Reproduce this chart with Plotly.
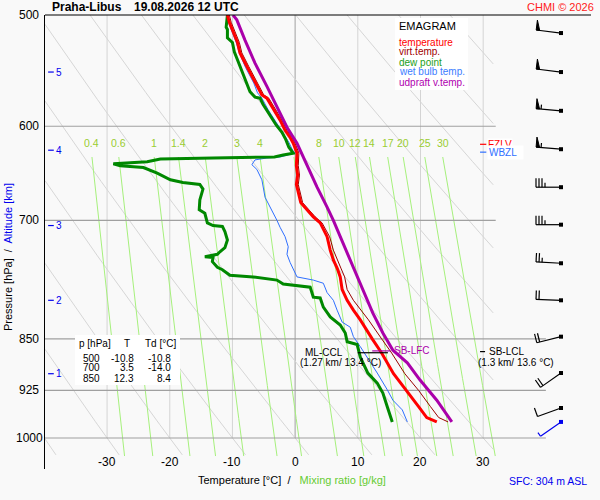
import numpy as np
import plotly.graph_objects as go

# ---- sounding (T in degC, p in hPa) ----
temp_p = [500, 506, 523, 532, 544, 558, 570, 573, 581, 594, 604, 611, 617, 627, 640, 650, 660, 670, 680,
          688, 696, 703, 719, 735, 747, 757, 768, 784, 798, 811, 824, 850, 870, 900, 925, 950, 967, 974]
temp_t = [-10.8, -10.5, -9.2, -8.8, -7.7, -6.4, -5.3, -4.5, -3.7, -2.4, -1.6, -0.8, -0.3, 0.3, 0.2, 0.4, 0.2, 0.5, 0.9,
          1.9, 2.9, 4.0, 5.1, 5.6, 6.1, 6.7, 7.2, 7.5, 8.3, 9.3, 10.4, 12.3, 13.8, 15.7, 17.8, 19.7, 21.0, 22.6]
virt_t = [-10.5, -10.2, -8.9, -8.5, -7.4, -6.1, -5.0, -4.2, -3.4, -2.1, -1.3, -0.5, 0.0, 0.6, 0.5, 0.7, 0.5, 0.8, 1.2,
          2.2, 3.2, 4.3, 5.5, 6.1, 6.7, 7.3, 7.9, 8.3, 9.3, 10.5, 11.7, 13.8, 15.4, 17.5, 19.7, 21.6, 22.9, 24.4]

dew_p = [500, 510, 512, 519, 523, 531, 538, 549, 562, 567, 572, 573, 579, 584, 592, 599, 606, 613, 621, 624,
         627, 629, 631, 632, 633, 636, 637, 638, 640, 642, 648, 655, 658, 660, 665, 677, 688, 692, 703, 706,
         707, 713, 723, 732, 737, 740, 743, 744, 749, 756, 759, 766, 768, 772, 777, 781, 794, 795, 807, 820,
         831, 842, 854, 858, 876, 899, 914, 929, 950, 974]
dew_t = [-10.8, -11.0, -10.8, -10.8, -10.0, -9.7, -9.2, -8.4, -7.6, -7.2, -6.4, -5.6, -5.1, -4.6, -3.8, -3.0, -2.1, -1.5, -1.0, -0.6,
         -0.3, -1.9, -3.3, -13.1, -21.5, -23.6, -27.9, -29.0, -27.9, -24.2, -22.0, -19.9, -17.9, -15.2, -14.7, -15.2, -15.3, -14.4, -14.0, -13.1,
         -11.6, -11.2, -10.8, -11.2, -12.0, -12.4, -14.4, -13.1, -13.2, -12.4, -11.6, -10.4, -6.7, -2.9, -1.9, 2.4, 2.9, 4.0, 4.5, 5.6,
         7.2, 8.0, 8.3, 9.9, 10.4, 11.6, 13.1, 14.0, 14.7, 15.5]

wb_p = [500, 508, 523, 532, 545, 559, 568, 573, 584, 597, 607, 616, 624, 627, 631, 632, 634, 639, 644, 655,
        674, 688, 700, 708, 719, 731, 740, 750, 759, 768, 772, 776, 788, 798, 811, 827, 834, 847, 861, 876,
        899, 924, 940, 955, 974]
wb_t = [-10.8, -10.5, -9.4, -8.9, -7.9, -6.6, -6.0, -5.3, -4.3, -2.9, -1.9, -1.0, -0.4, 0.0, -2.4, -4.5, -6.4, -6.9, -6.1, -5.3,
        -4.8, -3.7, -2.9, -2.4, -1.6, -1.1, -1.3, -0.8, -0.3, 0.3, 2.9, 4.5, 5.1, 6.1, 6.7, 7.5, 8.8, 9.3, 10.4, 11.5,
        13.1, 14.7, 15.6, 17.1, 17.9]

up_p = [500, 504, 521, 541, 562, 581, 601, 617, 631, 648, 663, 685, 700, 719, 747, 776, 798, 815, 842, 866, 884, 909, 940, 974]
up_t = [-9.9, -9.3, -8.0, -6.4, -4.5, -2.9, -1.3, 0.3, 1.3, 2.4, 3.5, 5.1, 6.1, 7.2, 8.8, 10.4, 11.6, 12.4, 14.0, 15.6, 17.9, 19.9, 22.6, 25.0]

# wind barbs
wind_p = [515, 549, 585, 623, 663, 705, 751, 798, 847, 899, 952, 974]
wind_dir = [277, 277, 275, 275, 270, 270, 273, 272, 256, 235, 250, 235]
wind_kt = [50, 50, 55, 55, 35, 35, 25, 20, 20, 20, 10, 3]

# grid / labels
p_ticks = [500, 600, 700, 850, 925, 1000]
t_ticks = [-30, -20, -10, 0, 10, 20, 30]
mix_w = [0.4, 0.6, 1, 1.4, 2, 3, 4, 6, 8, 10, 12, 14, 17, 20, 25, 30]
mix_labels = ["0.4", "0.6", "1", "1.4", "2", "3", "4", "", "8", "10", "12", "14", "17", "20", "25", "30"]
theta_c = list(range(-40, 101, 10))
alt_km = [5, 4, 3, 2, 1]
alt_p = [549, 624, 706, 798, 900]
table_p = [500, 700, 850]
table_t = [-10.8, 3.5, 12.3]
table_td = [-10.8, -14.0, 8.4]
fzlv_p, wbzl_p = 618, 626
ccl_p, lfc_p, lcl_p = 869.6, 867, 868

P_TOP, P_BOT = 500, 1052.1
T_MIN, T_MAX = -39.9, 47.2
FONT = "Liberation Sans, Arial, sans-serif"

fig = go.Figure()


def add_line(x, y, color, width=1.0, xaxis="x", **kw):
    fig.add_trace(go.Scatter(x=list(x), y=list(y), mode="lines", xaxis=xaxis, yaxis="y",
                             line=dict(color=color, width=width), hoverinfo="skip", **kw))


# isotherms
for t in t_ticks:
    add_line([t, t], [500, 1000], "#a0a0a0" if t == 0 else "#d4d4d4")

# dry adiabats
for th in theta_c:
    thk = th + 273.15
    p_lo = max(500, 1000 * ((T_MIN + 273.15) / thk) ** (1 / 0.286))
    p_hi = min(1028, 1000 * ((31.6 + 273.15) / thk) ** (1 / 0.286))
    if p_hi <= p_lo:
        continue
    pp = np.linspace(p_lo, p_hi, 40)
    add_line(thk * (pp / 1000) ** 0.286 - 273.15, pp, "#d6d6d6")

# mixing ratio lines
def mix_t(w, p):
    e = w * p / (622 + w)
    a = np.log(e / 6.112)
    return 243.5 * a / (17.67 - a)

for w in mix_w:
    pp = np.linspace(631, 1030, 40)
    add_line(mix_t(w, pp), pp, "#a6f07c")

# isobars
for p in p_ticks[1:]:
    add_line([T_MIN, 32 if p < 800 else 40], [p, p], "#a0a0a0", 1.2)

# sounding curves
add_line(wb_t, wb_p, "#2f6fff", 1)
add_line(virt_t, temp_p, "#990000", 1)
add_line(dew_t, dew_p, "#008800", 3)
add_line(temp_t, temp_p, "#ff0000", 3)
add_line(up_t, up_p, "#aa00aa", 3)

# level markers
add_line([10.0, 14.8], [ccl_p, ccl_p], "black", 1.2)
add_line([12.3, 15.2], [lfc_p, lfc_p], "#aa00aa", 1.2)
add_line([29.5, 30.3], [lcl_p, lcl_p], "black", 1.2)
add_line([29.5, 30.5], [fzlv_p, fzlv_p], "red", 1.2)
add_line([29.5, 30.5], [wbzl_p, wbzl_p], "#2f6fff", 1.2)
for p in alt_p:
    add_line([-39.4, -38.5], [p, p], "#0000ee", 1.2)

# wind barbs (x2 axis in pixels, y on the pressure axis)
X_STN = 561.0
PXD = 454 / (np.log10(P_BOT) - np.log10(P_TOP))


def to_axes(p, pt):
    return X_STN + pt[0], 10 ** (np.log10(p) + pt[1] / PXD)


for p, wd, kt in zip(wind_p, wind_dir, wind_kt):
    col = "#0000ee" if p == wind_p[-1] else "black"
    d = np.radians(wd)
    u = np.array([np.sin(d), -np.cos(d)])
    perp = np.array([-u[1], u[0]])
    tip = 25 * u
    segs = [[np.zeros(2), tip]]
    polys = []
    rem = 5 * round(kt / 5)
    pos = 0.0
    while rem >= 50:
        b = tip - u * pos
        polys.append([b, b + perp * 10, b - u * 3.5, b])
        pos += 5
        rem -= 50
    while rem >= 10:
        b = tip - u * pos
        segs.append([b, b + perp * 9])
        pos += 3
        rem -= 10
    if rem >= 5:
        b = tip - u * pos
        segs.append([b, b + perp * 4.5])
    xs, ys = [], []
    for s in segs:
        for pt in s:
            x, y = to_axes(p, pt)
            xs.append(x)
            ys.append(y)
        xs.append(None)
        ys.append(None)
    add_line(xs, ys, col, 1.2, xaxis="x2")
    for poly in polys:
        px_, py_ = zip(*[to_axes(p, pt) for pt in poly])
        add_line(px_, py_, col, 1, xaxis="x2", fill="toself", fillcolor=col)
    fig.add_trace(go.Scatter(x=[X_STN], y=[p], mode="markers", xaxis="x2", yaxis="y",
                             marker=dict(symbol="square", size=4, color=col), hoverinfo="skip"))

ann = []


def text(x, y, s, size=11, color="black", xref="paper", yref="paper", xanchor="center", **kw):
    ann.append(dict(x=x, y=y, text=s, xref=xref, yref=yref, showarrow=False, xanchor=xanchor,
                    yanchor="middle", font=dict(family=FONT, size=size, color=color), **kw))


def px_x(px):
    return (px - 45) / 546


def px_y(py):
    return (469 - py) / 454


# title and corners
text(px_x(50), px_y(7), "<b>Praha-Libus</b>", 12, xanchor="left")
text(px_x(132), px_y(7), "<b>19.08.2026 12 UTC</b>", 12, xanchor="left")
text(px_x(596), px_y(7), "CHMI © 2026", 11, "#ff2020", xanchor="right")
text(px_x(589), px_y(481), "SFC: 304 m ASL", 10.5, "#0000ee", xanchor="right")

# axis labels
for p in p_ticks:
    text(px_x(29), np.log10(p), str(p), 12, yref="y")
for t in t_ticks:
    text(t, np.log10(1040), str(t), 12, xref="x", yref="y")
text(px_x(292), px_y(480),
     "Temperature [°C]\u00a0 /\u00a0\u00a0 <span style='color:#66cc33'>Mixing ratio [g/kg]</span>", 11)
text(px_x(8), px_y(257), "Pressure [hPa]\u00a0 /\u00a0 <span style='color:#0000ee'>Altitude [km]</span>",
     11, textangle=-90)
for k, p in zip(alt_km, alt_p):
    text(-37.6, np.log10(p), str(k), 10, "#0000ee", xref="x", yref="y")

# mixing ratio labels
for w, lab in zip(mix_w, mix_labels):
    if lab:
        text(float(mix_t(w, 631)), np.log10(617), lab, 10.5, "#9acd32", xref="x", yref="y")

# legend
text(px_x(397), px_y(26), "EMAGRAM", 11, xanchor="left")
leg = [("temperature", "#ff0000"), ("virt.temp.", "#a00000"), ("dew point", "#22a022"),
       ("wet bulb temp.", "#3b7dff"), ("udpraft v.temp.", "#b000b0")]
for i, (s, c) in enumerate(leg):
    text(px_x(397), px_y(42 + 10 * i), s, 10, c, xanchor="left")

# table
text(px_x(95), px_y(343), "p [hPa]", 10)
text(px_x(127), px_y(343), "T", 10)
text(px_x(160), px_y(343), "Td [°C]", 10)
for i, (p, t, td) in enumerate(zip(table_p, table_t, table_td)):
    yy = px_y(358 + 10 * i)
    text(px_x(102), yy, str(p), 10, xanchor="right")
    text(px_x(136), yy, f"{t:.1f}", 10, xanchor="right")
    text(px_x(173), yy, f"{td:.1f}", 10, xanchor="right")

# level annotations
text(8.0, np.log10(ccl_p), "ML-CCL", 10, xref="x", yref="y", xanchor="right")
text(7.2, np.log10(884), "(1.27 km/ 13.4 °C)", 10, xref="x", yref="y")
text(15.5, np.log10(lfc_p), "SB-LFC", 10, "#aa00aa", xref="x", yref="y", xanchor="left")
text(30.6, np.log10(lcl_p), "SB-LCL", 10, xref="x", yref="y", xanchor="left")
text(35.3, np.log10(884), "(1.3 km/ 13.6 °C)", 10, xref="x", yref="y")
text(30.6, np.log10(fzlv_p), "FZLV", 10, "red", xref="x", yref="y", xanchor="left",
     bgcolor="white", borderpad=0)
text(30.6, np.log10(wbzl_p), "WBZL\u00a0\u00a0", 10, "#2f6fff", xref="x", yref="y", xanchor="left",
     bgcolor="white", borderpad=1)

shapes = [
    dict(type="line", xref="paper", yref="paper", x0=0, x1=1, y0=1, y1=1, line=dict(color="black", width=1.2)),
    dict(type="rect", xref="paper", yref="paper", x0=px_x(395), x1=px_x(468), y0=px_y(90), y1=px_y(18),
         fillcolor="white", line=dict(width=0), layer="above"),
    dict(type="rect", xref="paper", yref="paper", x0=px_x(75), x1=px_x(180), y0=px_y(385), y1=px_y(335),
         fillcolor="white", line=dict(width=0), layer="above"),
]

fig.update_layout(
    width=600, height=500, autosize=False,
    margin=dict(l=45, r=9, t=15, b=31),
    paper_bgcolor="#f9f9f9", plot_bgcolor="#f9f9f9",
    showlegend=False,
    font=dict(family=FONT, size=11, color="black"),
    xaxis=dict(range=[T_MIN, T_MAX], showgrid=False, zeroline=False, showticklabels=False,
               showline=False, ticks=""),
    xaxis2=dict(range=[45, 591], overlaying="x", anchor="y", visible=False),
    yaxis=dict(type="log", range=[np.log10(P_BOT), np.log10(P_TOP)], showgrid=False, zeroline=False,
               showticklabels=False, showline=True, linecolor="black", linewidth=1.2, ticks=""),
    annotations=ann,
    shapes=shapes,
)

fig.write_html("out.html", config={"displayModeBar": False},
               post_script="document.body.style.margin='0px';")
